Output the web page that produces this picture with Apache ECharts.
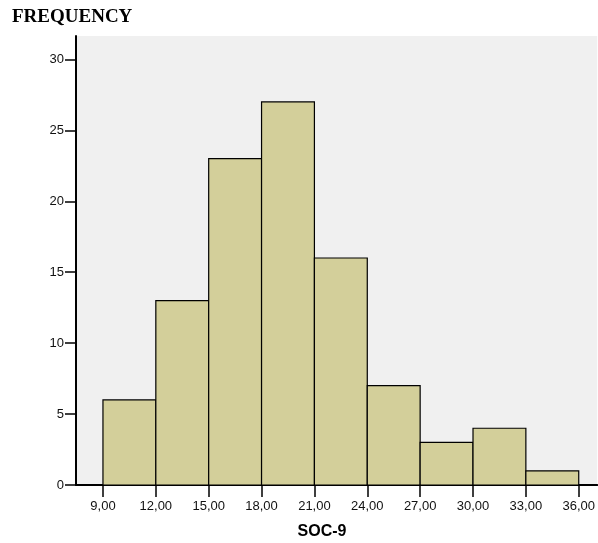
<!DOCTYPE html>
<html><head><meta charset="utf-8">
<script src="https://cdn.jsdelivr.net/npm/echarts@6/dist/echarts.min.js"></script>
<style>html,body{margin:0;padding:0;background:#fff}#c{width:598px;height:543px}</style>
</head><body><div id="c"></div>
<script>
const binEdges = [9, 12, 15, 18, 21, 24, 27, 30, 33, 36];
const frequencies = [6, 13, 23, 27, 16, 7, 3, 4, 1];
const xTickValues = [9, 12, 15, 18, 21, 24, 27, 30, 33, 36];
const yAxisTitle = 'FREQUENCY';
const xAxisTitle = 'SOC-9';

const data = frequencies.map((f, i) => [binEdges[i], binEdges[i + 1], f]);

const chart = echarts.init(document.getElementById('c'));
chart.setOption({
  animation: false,
  backgroundColor: '#ffffff',
  title: [
    { text: yAxisTitle, left: 12, top: 8, padding: 0, textStyle: { fontFamily: 'Liberation Serif', fontWeight: 'bold', fontSize: 19, color: '#000' } },
    { text: xAxisTitle, left: 322, top: 524, padding: 0, textAlign: 'center', textStyle: { fontFamily: 'Liberation Sans', fontWeight: 'bold', fontSize: 16, color: '#000' } }
  ],
  grid: { left: 76, top: 36, right: 0, bottom: 58, show: true, backgroundColor: '#f0f0f0', borderWidth: 0 },
  xAxis: {
    type: 'value', min: 7.47, max: 37.05,
    axisLine: { show: true, onZero: false, lineStyle: { color: '#000', width: 2 } },
    axisTick: { show: true, customValues: xTickValues, length: 12, lineStyle: { color: '#000', width: 1.5 } },
    axisLabel: { customValues: xTickValues, margin: 15, fontFamily: 'Liberation Sans', fontSize: 13, color: '#111',
      formatter: v => v.toFixed(2).replace('.', ',') },
    splitLine: { show: false }
  },
  yAxis: {
    type: 'value', min: 0, max: 31.65, interval: 5,
    axisLine: { show: true, lineStyle: { color: '#000', width: 2 } },
    axisTick: { show: true, length: 11, lineStyle: { color: '#000', width: 1.5 } },
    axisLabel: { margin: 12, fontFamily: 'Liberation Sans', fontSize: 13, color: '#111', showMaxLabel: false },
    splitLine: { show: false }
  },
  graphic: [],
  series: [{
    type: 'custom',
    data: data,
    encode: { x: [0, 1], y: 2 },
    renderItem: function (params, api) {
      const p0 = api.coord([api.value(0), 0]);
      const p1 = api.coord([api.value(1), api.value(2)]);
      return {
        type: 'rect',
        shape: { x: p0[0], y: p1[1], width: p1[0] - p0[0], height: p0[1] - p1[1] },
        style: { fill: '#d3cf9a', stroke: '#000', lineWidth: 1.2 }
      };
    }
  }]
});
chart.on('finished', function once() {
  chart.off('finished', once);
  const r = chart.convertToPixel({ gridIndex: 0 }, [37.05, 31.65]);
  const l = chart.convertToPixel({ gridIndex: 0 }, [7.47, 31.65]);
  chart.setOption({ graphic: [{ type: 'line', shape: { x1: l[0], y1: r[1], x2: 598, y2: r[1] }, style: { stroke: '#000', lineWidth: 2 }, z: 10 }] });
});
</script></body></html>
